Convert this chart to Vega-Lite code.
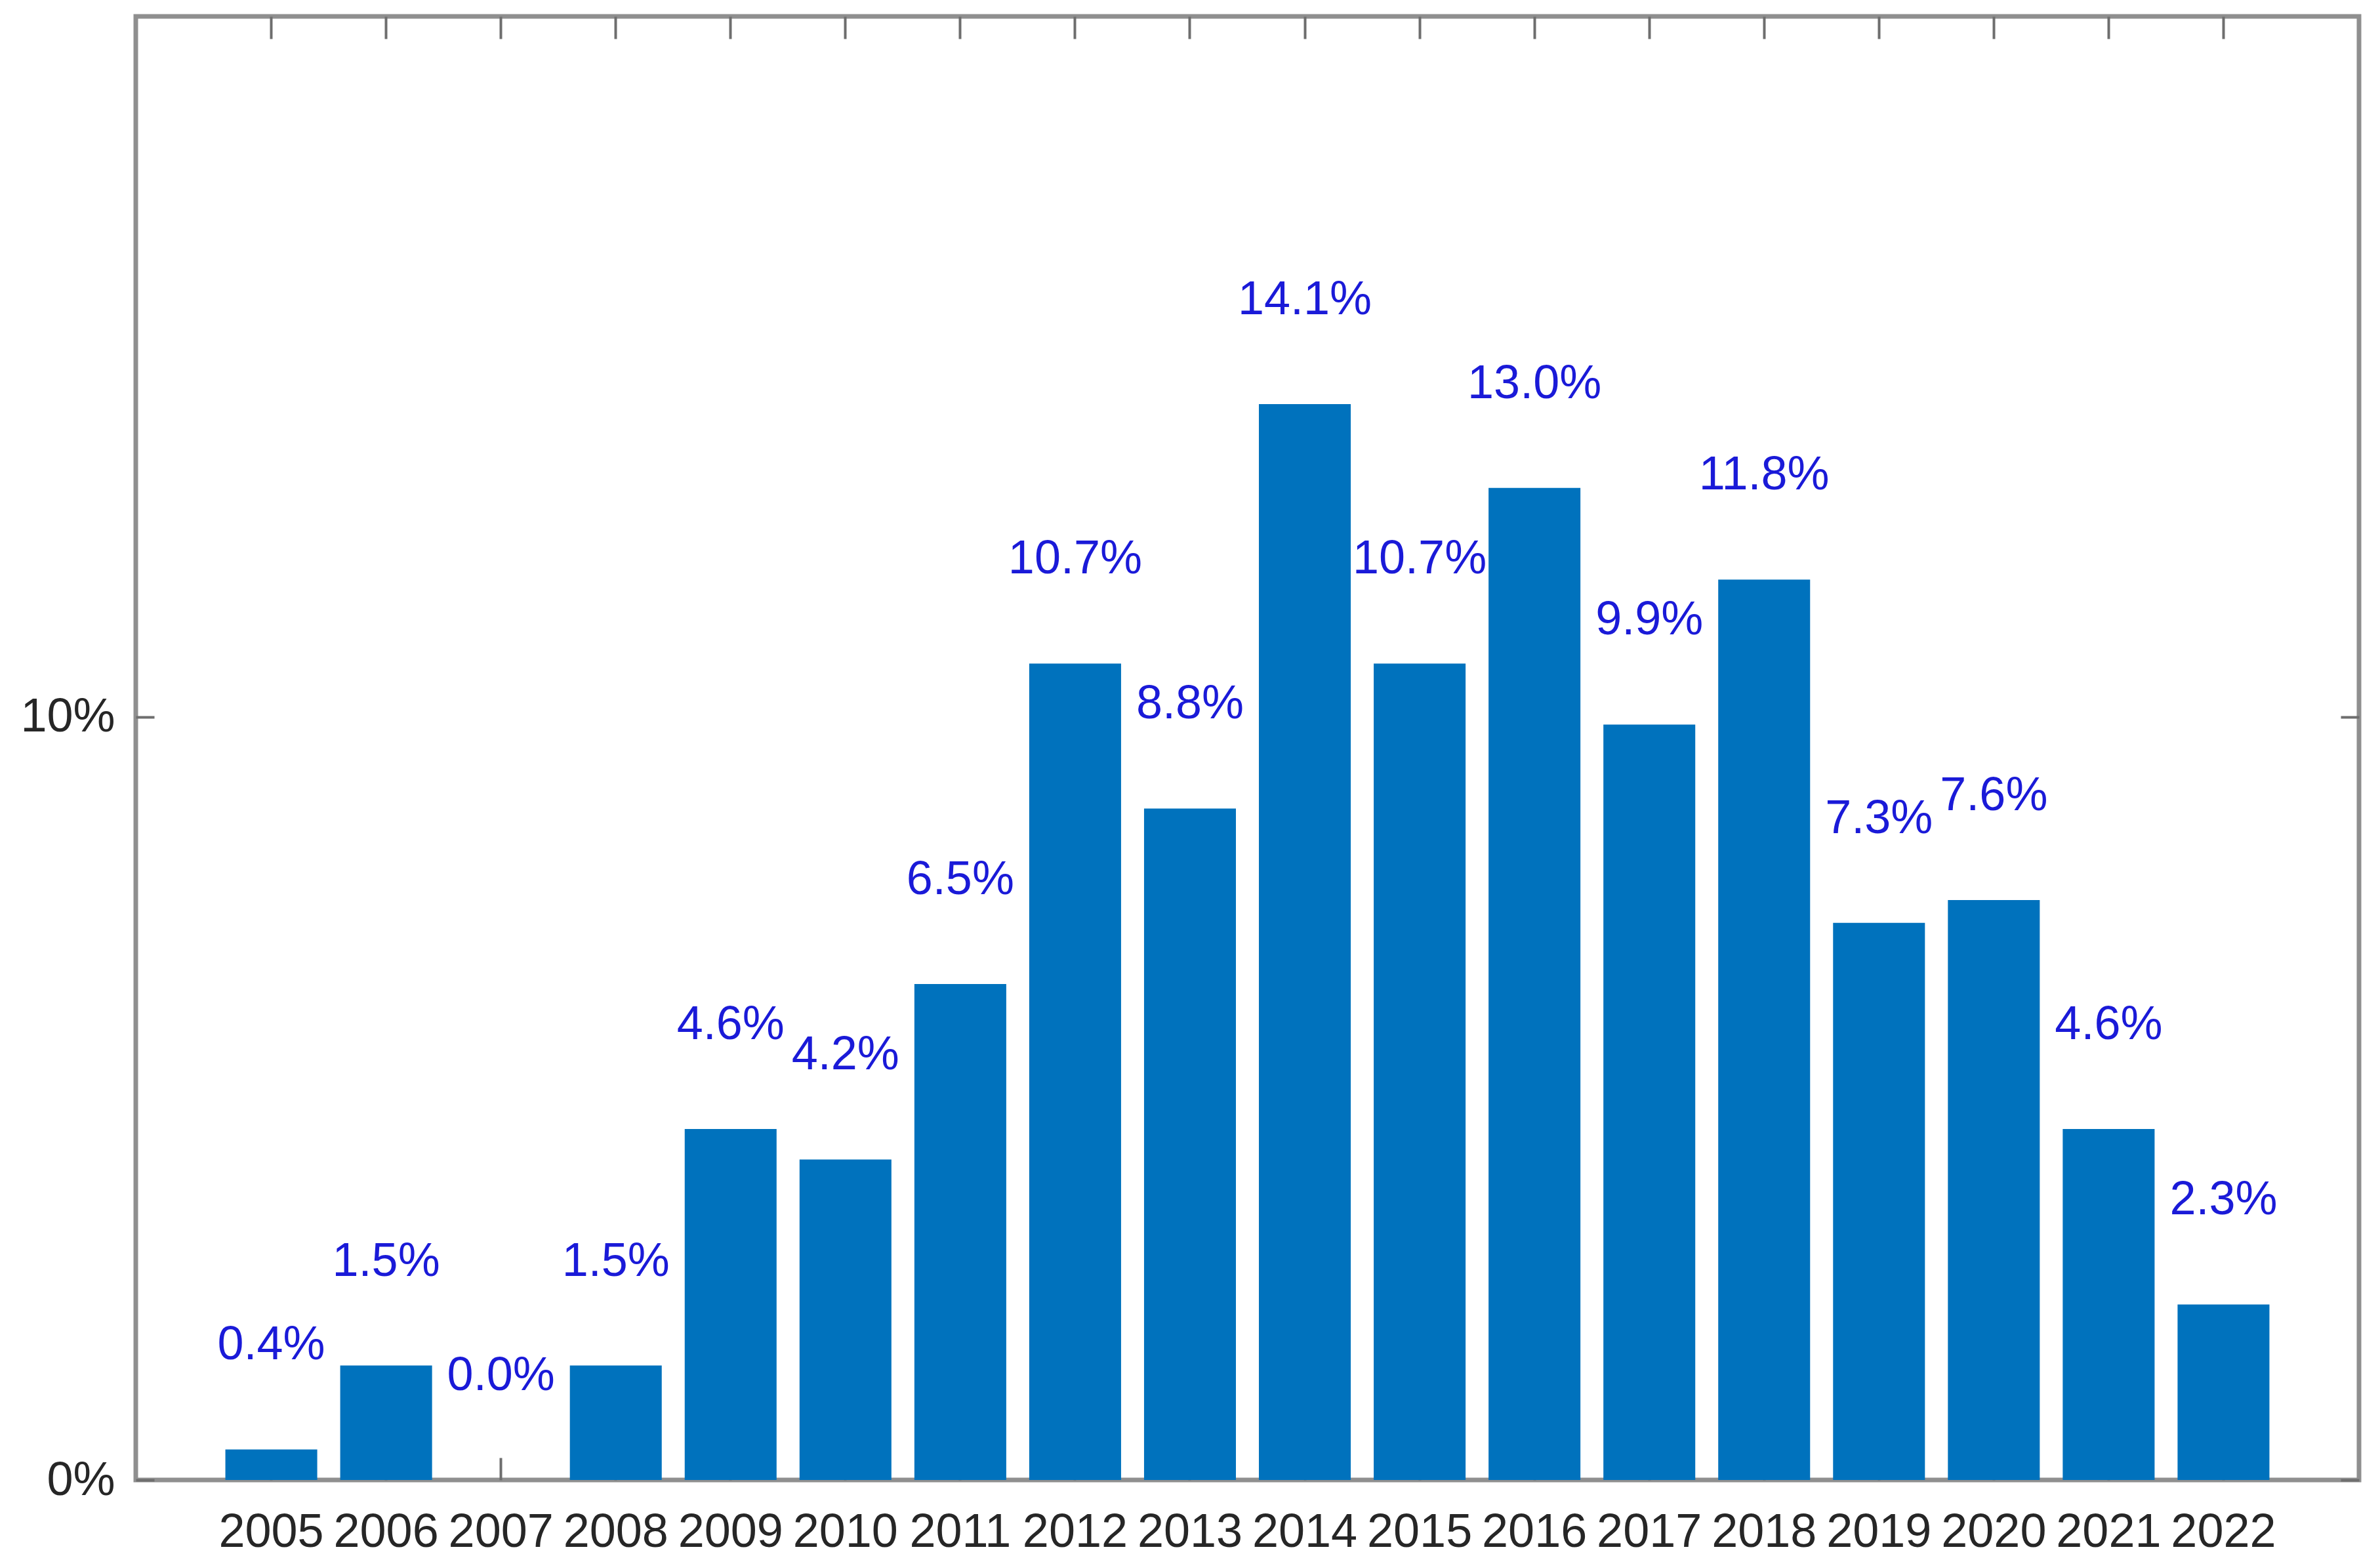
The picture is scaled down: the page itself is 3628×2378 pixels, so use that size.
{
  "$schema": "https://vega.github.io/schema/vega-lite/v6.json",
  "description": "Yearly share of items, 2005-2022",
  "width": 3389,
  "height": 2231,
  "autosize": {"type": "none"},
  "padding": {"left": 207, "top": 25, "right": 32, "bottom": 122},
  "background": "white",
  "config": {
    "view": {"stroke": "#8f8f8f", "strokeWidth": 7},
    "font": "Liberation Sans",
    "axis": {
      "labelFont": "Liberation Sans",
      "labelFontSize": 72,
      "labelColor": "#262626",
      "tickColor": "#6e6e6e",
      "tickWidth": 4,
      "domain": false,
      "grid": false,
      "title": null,
      "zindex": 1
    }
  },
  "data": {
    "values": [
      {"year": "2005", "share": 0.004},
      {"year": "2006", "share": 0.015},
      {"year": "2007", "share": 0.0},
      {"year": "2008", "share": 0.015},
      {"year": "2009", "share": 0.046},
      {"year": "2010", "share": 0.042},
      {"year": "2011", "share": 0.065},
      {"year": "2012", "share": 0.107},
      {"year": "2013", "share": 0.088},
      {"year": "2014", "share": 0.141},
      {"year": "2015", "share": 0.107},
      {"year": "2016", "share": 0.130},
      {"year": "2017", "share": 0.099},
      {"year": "2018", "share": 0.118},
      {"year": "2019", "share": 0.073},
      {"year": "2020", "share": 0.076},
      {"year": "2021", "share": 0.046},
      {"year": "2022", "share": 0.023}
    ]
  },
  "encoding": {
    "x": {
      "field": "year",
      "type": "ordinal",
      "sort": null,
      "scale": {"type": "band", "paddingInner": 0.2, "paddingOuter": 0.78}
    },
    "y": {
      "field": "share",
      "type": "quantitative",
      "scale": {"domain": [0, 0.1918], "nice": false, "zero": true}
    }
  },
  "layer": [
    {
      "mark": {"type": "bar", "color": "#0072BD"},
      "encoding": {
        "x": {
          "field": "year",
          "type": "ordinal",
          "sort": null,
          "axis": {
            "orient": "bottom",
            "labelAngle": 0,
            "tickSize": -34,
            "bandPosition": 0.5,
            "labelPadding": 78
          }
        },
        "y": {
          "field": "share",
          "type": "quantitative",
          "axis": {
            "orient": "left",
            "values": [0, 0.1],
            "format": ".0%",
            "tickSize": -28,
            "labelPadding": 60
          }
        }
      }
    },
    {
      "mark": {
        "type": "text",
        "color": "#1a1ad8",
        "fontSize": 72,
        "align": "center",
        "baseline": "alphabetic",
        "dy": -137
      },
      "encoding": {
        "text": {"field": "share", "type": "quantitative", "format": ".1%"},
        "x": {
          "field": "year",
          "type": "ordinal",
          "sort": null,
          "axis": {
            "orient": "top",
            "labels": false,
            "tickSize": -34,
            "bandPosition": 0.5
          }
        },
        "y": {
          "field": "share",
          "type": "quantitative",
          "axis": {
            "orient": "right",
            "values": [0, 0.1],
            "labels": false,
            "tickSize": -28
          }
        }
      }
    }
  ],
  "resolve": {"axis": {"x": "independent", "y": "independent"}}
}
